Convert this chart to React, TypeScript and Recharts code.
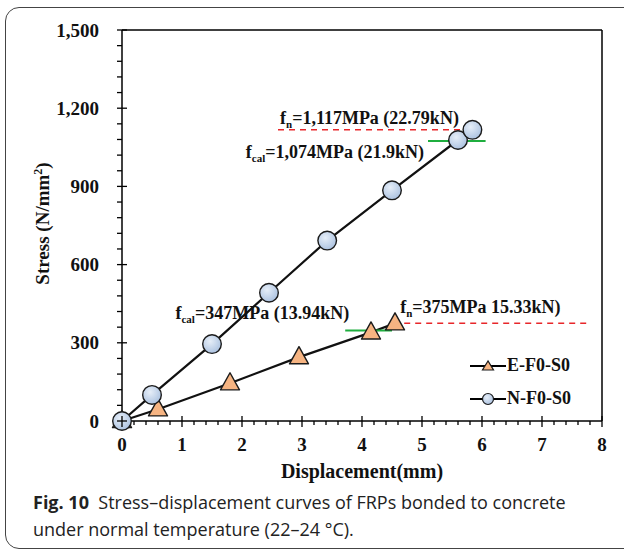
import React from 'react';
import { LineChart, Line, XAxis, YAxis, ReferenceLine } from 'recharts';

// E-F0-S0 (triangles) and N-F0-S0 (circles), displacement in mm vs stress in N/mm2
const eDisp = [0, 0.6, 1.8, 2.95, 4.15, 4.55];
const eStress = [0, 45, 145, 245, 340, 375];
const nDisp = [0, 0.5, 1.5, 2.45, 3.42, 4.5, 5.6, 5.84];
const nStress = [0, 100, 295, 492, 692, 885, 1078, 1117];

const xMajor = [0, 1, 2, 3, 4, 5, 6, 7, 8];
const yMajor = [0, 300, 600, 900, 1200, 1500];

const eData = eDisp.map((x, i) => ({ x, y: eStress[i] }));
const nData = nDisp.map((x, i) => ({ x, y: nStress[i] }));

// minor ticks: 4 between every pair of majors
const withMinors = (majors: number[]) => {
  const out: number[] = [];
  majors.forEach((m, i) => {
    out.push(m);
    if (i < majors.length - 1) {
      const step = (majors[i + 1] - m) / 5;
      for (let k = 1; k < 5; k++) out.push(+(m + step * k).toFixed(4));
    }
  });
  return out;
};
const xTicks = withMinors(xMajor);
const yTicks = withMinors(yMajor);

const SERIF = '"Liberation Serif", "Times New Roman", serif';

const XTick = (props: any) => {
  const { x, y, payload } = props;
  const major = xMajor.includes(payload.value);
  return (
    <g>
      <line x1={x} x2={x} y1={major ? y - 5 : y} y2={major ? y + 6 : y + 4} stroke="#000" strokeWidth={1.3} />
      {major && (
        <text x={x} y={y + 30} textAnchor="middle" fontFamily={SERIF} fontWeight="bold" fontSize={19} fill="#111">
          {payload.value}
        </text>
      )}
    </g>
  );
};

const YTick = (props: any) => {
  const { x, y, payload } = props;
  const major = yMajor.includes(payload.value);
  return (
    <g>
      <line x1={x - 5} x2={major ? x + 5 : x} y1={y} y2={y} stroke="#000" strokeWidth={1.3} />
      {major && (
        <text x={x - 23} y={y + 6.5} textAnchor="end" fontFamily={SERIF} fontWeight="bold" fontSize={19} fill="#111">
          {payload.value.toLocaleString('en-US')}
        </text>
      )}
    </g>
  );
};

const CircleDot = (props: any) => {
  const { cx, cy, size = 9.3 } = props;
  if (cx == null || cy == null) return null;
  return <circle cx={cx} cy={cy} r={size} fill="url(#blueFill)" stroke="#1a1a1a" strokeWidth={1.4} />;
};

const TriangleDot = (props: any) => {
  const { cx, cy, size = 9.5 } = props;
  if (cx == null || cy == null) return null;
  const s = size;
  return (
    <polygon
      points={`${cx},${cy - s * 1.1} ${cx - s},${cy + s * 0.7} ${cx + s},${cy + s * 0.7}`}
      fill="#f6b482"
      stroke="#1a1a1a"
      strokeWidth={1.4}
      strokeLinejoin="round"
    />
  );
};

// annotation text: f + subscript + rest
const anno = (sub: string, rest: string, dx: number, dy: number, anchor: 'start' | 'end') => (p: any) => {
  const vb = p.viewBox || { x: 0, y: 0 };
  return (
    <text x={vb.x + dx} y={vb.y + dy} textAnchor={anchor} fontFamily={SERIF} fontWeight="bold" fontSize={18} fill="#111">
      f<tspan fontSize={11} dy={4}>{sub}</tspan>
      <tspan dy={-4}>{rest}</tspan>
    </text>
  );
};

const legendItems = [
  { name: 'E-F0-S0', tri: true },
  { name: 'N-F0-S0', tri: false },
];

const LegendBox = () => (
  <div style={{ position: 'absolute', left: 470, top: 349, fontFamily: SERIF, fontWeight: 'bold', fontSize: 18, color: '#111' }}>
    {legendItems.map((it) => (
      <div key={it.name} style={{ display: 'flex', alignItems: 'center', height: 33 }}>
        <svg width={37} height={20}>
          <defs>
            <radialGradient id={`lg${it.name}`} cx="40%" cy="35%" r="70%">
              <stop offset="0%" stopColor="#e6eef8" />
              <stop offset="100%" stopColor="#a9c0df" />
            </radialGradient>
          </defs>
          <line x1={0} x2={36} y1={10} y2={10} stroke="#000" strokeWidth={2} />
          {it.tri ? (
            <polygon points="18,5 12.5,14 23.5,14" fill="#f6b482" stroke="#1a1a1a" strokeWidth={1.2} />
          ) : (
            <circle cx={18} cy={10} r={5.5} fill={`url(#lg${it.name})`} stroke="#1a1a1a" strokeWidth={1.2} />
          )}
        </svg>
        <span>{it.name}</span>
      </div>
    ))}
  </div>
);

export default function App() {
  return (
    <div style={{ position: 'absolute', left: 0, top: 0, width: 624, height: 549, background: '#fff', overflow: 'hidden' }}>
      <div
        style={{
          position: 'absolute',
          left: 5,
          top: 7,
          width: 700,
          height: 540,
          border: '1.5px solid #444',
          borderRadius: 14,
        }}
      />
      <div style={{ position: 'absolute', left: 0, top: 0 }}>
        <LineChart width={624} height={549} margin={{ top: 30, right: 22, bottom: 98, left: 0 }}>
          <defs>
            <radialGradient id="blueFill" cx="40%" cy="35%" r="70%">
              <stop offset="0%" stopColor="#e6eef8" />
              <stop offset="100%" stopColor="#a9c0df" />
            </radialGradient>
          </defs>
          <XAxis
            type="number"
            dataKey="x"
            domain={[0, 8]}
            ticks={xTicks}
            interval={0}
            tickSize={0}
            tickMargin={0}
            tick={<XTick />}
            tickLine={false}
            height={30}
            axisLine={{ stroke: '#000', strokeWidth: 1.5 }}
            label={(p: any) => {
              const vb = p.viewBox;
              return (
                <text x={vb.x + vb.width / 2} y={vb.y + 57} textAnchor="middle" fontFamily={SERIF} fontWeight="bold" fontSize={20} fill="#111">
                  Displacement(mm)
                </text>
              );
            }}
          />
          <YAxis
            type="number"
            dataKey="y"
            domain={[0, 1500]}
            ticks={yTicks}
            interval={0}
            tickSize={0}
            tickMargin={0}
            tick={<YTick />}
            tickLine={false}
            width={122}
            axisLine={{ stroke: '#000', strokeWidth: 1.5 }}
            label={(p: any) => {
              const vb = p.viewBox;
              const cy = vb.y + vb.height / 2 - 2;
              return (
                <text x={42} y={cy} transform={`rotate(-90 42 ${cy})`} dy={7} textAnchor="middle" fontFamily={SERIF} fontWeight="bold" fontSize={19} fill="#111">
                  Stress (N/mm<tspan fontSize={12} dy={-7}>2</tspan>
                  <tspan dy={7}>)</tspan>
                </text>
              );
            }}
          />
          <ReferenceLine y={1500} stroke="#000" strokeWidth={1.5} />
          <ReferenceLine x={8} stroke="#000" strokeWidth={1.5} />
          <Line
            data={eData}
            dataKey="y"
            name="E-F0-S0"
            stroke="#111"
            strokeWidth={2.2}
            dot={<TriangleDot />}
            activeDot={false}
            isAnimationActive={false}
          />
          <Line
            data={nData}
            dataKey="y"
            name="N-F0-S0"
            stroke="#111"
            strokeWidth={2.2}
            dot={<CircleDot />}
            activeDot={false}
            isAnimationActive={false}
          />
          <ReferenceLine
            segment={[{ x: 5.1, y: 1074 }, { x: 6.06, y: 1074 }]}
            stroke="#1fae3f"
            strokeWidth={2}
            label={anno('cal', '=1,074MPa (21.9kN)', -4, 17, 'end')}
          />
          <ReferenceLine
            segment={[{ x: 2.6, y: 1117 }, { x: 5.84, y: 1117 }]}
            stroke="#e8262a"
            strokeWidth={1.5}
            strokeDasharray="6 5"
            label={anno('n', '=1,117MPa (22.79kN)', 2, -6, 'start')}
          />
          <ReferenceLine
            segment={[{ x: 3.72, y: 347 }, { x: 4.5, y: 347 }]}
            stroke="#1fae3f"
            strokeWidth={2}
            label={anno('cal', '=347MPa (13.94kN)', 4, -12, 'end')}
          />
          <ReferenceLine
            segment={[{ x: 4.52, y: 375 }, { x: 7.77, y: 375 }]}
            stroke="#e8262a"
            strokeWidth={1.5}
            strokeDasharray="6 5"
            label={anno('n', '=375MPa 15.33kN)', 7, -10, 'start')}
          />
        </LineChart>
      </div>
      <LegendBox />
      <div
        style={{
          position: 'absolute',
          left: 33,
          top: 489,
          width: 580,
          fontFamily: '"Open Sans", "Noto Sans", sans-serif',
          fontSize: 18,
          lineHeight: '27px',
          color: '#222',
        }}
      >
        <b>Fig. 10</b>&nbsp; Stress–displacement curves of FRPs bonded to concrete
        <br />
        under normal temperature (22–24 °C).
      </div>
    </div>
  );
}
